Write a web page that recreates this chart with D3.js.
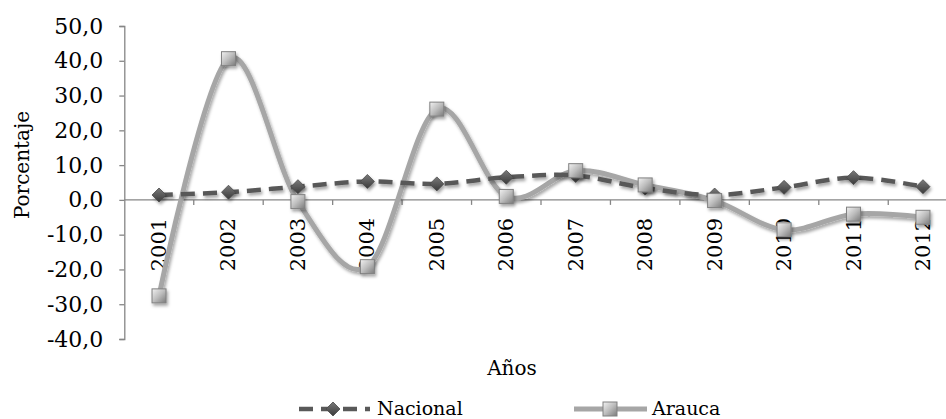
<!DOCTYPE html>
<html><head><meta charset="utf-8">
<script src="https://cdn.jsdelivr.net/npm/d3@7"></script>
<style>html,body{margin:0;padding:0;background:#fff;}svg{display:block;}</style>
</head><body>
<script>
const years = ["2001","2002","2003","2004","2005","2006","2007","2008","2009","2010","2011","2012"];
const nacional = [1.4, 2.2, 3.8, 5.3, 4.6, 6.5, 7.0, 3.4, 1.4, 3.6, 6.4, 3.8];
const arauca = [-27.6, 40.6, -0.5, -19.2, 26.1, 1.0, 8.4, 4.3, -0.2, -8.6, -4.1, -5.0];
const yTicks = [-40, -30, -20, -10, 0, 10, 20, 30, 40, 50];
const seriesNames = ["Nacional", "Arauca"];

const W = 946, H = 419;
const font = "'DejaVu Serif', serif";
const svg = d3.select("body").append("svg").attr("width", W).attr("height", H);

const defs = svg.append("defs");
const f = defs.append("filter").attr("id","sh").attr("x","-50%").attr("y","-50%").attr("width","200%").attr("height","200%");
f.append("feDropShadow").attr("dx",1.5).attr("dy",2.5).attr("stdDeviation",1.6).attr("flood-color","#000").attr("flood-opacity",0.35);
const gs = defs.append("linearGradient").attr("id","gsq").attr("x1",0).attr("y1",0).attr("x2",1).attr("y2",1);
gs.append("stop").attr("offset","0%").attr("stop-color","#f2f2f2");
gs.append("stop").attr("offset","50%").attr("stop-color","#bdbdbd");
gs.append("stop").attr("offset","100%").attr("stop-color","#7a7a7a");
const gd = defs.append("linearGradient").attr("id","gdi").attr("x1",0).attr("y1",0).attr("x2",0).attr("y2",1);
gd.append("stop").attr("offset","0%").attr("stop-color","#7a7a7a");
gd.append("stop").attr("offset","100%").attr("stop-color","#3a3a3a");

const x = d3.scaleBand().domain(years).range([124.3, 957.7]).padding(0);
const y = d3.scaleLinear().domain([-40, 50]).range([339, 26]);
const cx = d => x(d) + x.bandwidth()/2;

// Y axis
const yAxis = svg.append("g").attr("transform","translate(124.3,0)")
  .call(d3.axisLeft(y).tickValues(yTicks).tickSize(5).tickPadding(16)
    .tickFormat(d => d3.format(".1f")(d).replace(".", ",").replace("−","-")));
yAxis.select(".domain").attr("stroke","#868686").attr("stroke-width",1.3);
yAxis.selectAll(".tick line").attr("stroke","#868686").attr("stroke-width",1.3);
yAxis.selectAll("text").attr("font-family",font).attr("font-size",22).attr("fill","#000");

// X axis at 0
const xAxisG = svg.append("g").attr("transform",`translate(0,${y(0)})`);
xAxisG.append("line").attr("x1",124.3).attr("x2",W).attr("stroke","#868686").attr("stroke-width",1.3);
xAxisG.selectAll("line.t").data(years.slice(1)).enter().append("line").attr("class","t")
  .attr("x1",d=>x(d)).attr("x2",d=>x(d)).attr("y1",0).attr("y2",5)
  .attr("stroke","#868686").attr("stroke-width",1.3);

// Lines
const line = d3.line().x((d,i)=>cx(years[i])).y(d=>y(d)).curve(d3.curveCardinal.tension(0));
svg.append("path").datum(arauca).attr("d",line).attr("fill","none")
  .attr("stroke","#a6a6a6").attr("stroke-width",5).attr("filter","url(#sh)");

// X tick labels
xAxisG.selectAll("text").data(years).enter().append("text")
  .attr("transform", d=>`translate(${cx(d)+7},18) rotate(-90)`)
  .attr("text-anchor","end").attr("font-family",font).attr("font-size",21).attr("fill","#000")
  .text(d=>d);

svg.append("path").datum(nacional).attr("d",line).attr("fill","none")
  .attr("stroke","#595959").attr("stroke-width",4.5).attr("stroke-dasharray","14,8")
  .attr("filter","url(#sh)");

const diamond = s => `M0,${-s}L${s},0L0,${s}L${-s},0Z`;
svg.selectAll("path.dm").data(nacional).enter().append("path").attr("class","dm")
  .attr("d", diamond(7)).attr("transform",(d,i)=>`translate(${cx(years[i])},${y(d)})`)
  .attr("fill","url(#gdi)").attr("stroke","#4a4a4a").attr("stroke-width",0.8).attr("filter","url(#sh)");

svg.selectAll("rect.sq").data(arauca).enter().append("rect").attr("class","sq")
  .attr("x",(d,i)=>cx(years[i])-7).attr("y",d=>y(d)-7).attr("width",14).attr("height",14)
  .attr("fill","url(#gsq)").attr("stroke","#808080").attr("stroke-width",1).attr("filter","url(#sh)");

// Axis titles
svg.append("text").attr("transform","translate(29,165) rotate(-90)").attr("text-anchor","middle")
  .attr("font-family",font).attr("font-size",20).attr("fill","#000").text("Porcentaje");
svg.append("text").attr("x",512).attr("y",375).attr("text-anchor","middle")
  .attr("font-family",font).attr("font-size",20).attr("fill","#000").text("Años");

// Legend
const ly = 409;
const lg = svg.append("g");
lg.append("line").attr("x1",299).attr("x2",370).attr("y1",ly).attr("y2",ly)
  .attr("stroke","#595959").attr("stroke-width",4.5).attr("stroke-dasharray","14,8");
lg.append("path").attr("d",diamond(7)).attr("transform",`translate(333,${ly})`)
  .attr("fill","url(#gdi)").attr("stroke","#4a4a4a").attr("stroke-width",0.8);
lg.append("text").attr("x",377).attr("y",ly+6).attr("font-family",font).attr("font-size",19).text(seriesNames[0]);
lg.append("line").attr("x1",574).attr("x2",647).attr("y1",ly).attr("y2",ly)
  .attr("stroke","#a6a6a6").attr("stroke-width",5);
lg.append("rect").attr("x",603).attr("y",ly-7).attr("width",14).attr("height",14)
  .attr("fill","url(#gsq)").attr("stroke","#808080").attr("stroke-width",1);
lg.append("text").attr("x",652).attr("y",ly+6).attr("font-family",font).attr("font-size",19).text(seriesNames[1]);
</script>
</body></html>
